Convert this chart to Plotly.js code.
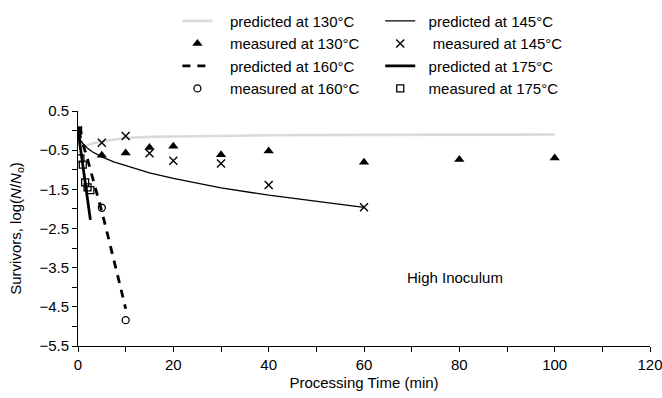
<!DOCTYPE html>
<html>
<head>
<meta charset="utf-8">
<script src="https://cdn.plot.ly/plotly-3.0.1.min.js"></script>
<style>html,body{margin:0;padding:0;background:#fff;}#chart{width:662px;height:398px;}</style>
</head>
<body>
<div id="chart"></div>
<script>
// ---- data ----
const tPred130 = [0, 1.2, 3, 5, 6, 10, 15, 20, 30, 40, 60, 80, 100];
const yPred130 = [0, -0.40, -0.33, -0.28, -0.26, -0.19, -0.16, -0.15, -0.13, -0.12, -0.11, -0.11, -0.10];
const tMeas130 = [0, 5, 10, 15, 20, 30, 40, 60, 80, 100];
const yMeas130 = [0, -0.63, -0.57, -0.43, -0.40, -0.62, -0.52, -0.81, -0.74, -0.70];

const tPred145 = [0, 0.5, 1, 2, 3, 5, 7.5, 10, 15, 20, 25, 30, 40, 50, 60];
const yPred145 = [0, -0.25, -0.33, -0.45, -0.54, -0.67, -0.80, -0.90, -1.08, -1.22, -1.34, -1.46, -1.65, -1.81, -1.96];
const tMeas145 = [0, 5, 10, 15, 20, 30, 40, 60];
const yMeas145 = [0, -0.31, -0.14, -0.58, -0.77, -0.84, -1.39, -1.96];

const tPred160 = [0, 1, 2, 3, 4, 5, 6, 7, 8, 9, 10];
const yPred160 = [0, -0.33, -0.73, -1.16, -1.60, -2.07, -2.55, -3.03, -3.53, -4.04, -4.55];
const tMeas160 = [0, 5, 10];
const yMeas160 = [0, -1.97, -4.84];

const tPred175 = [0, 0.5, 1, 1.5, 2, 2.6];
const yPred175 = [0, -0.44, -0.87, -1.31, -1.74, -2.28];
const tMeas175 = [0, 0.5, 1, 1.5, 2, 2.6];
const yMeas175 = [0, -0.71, -0.87, -1.32, -1.45, -1.52];

const names = {
  p130: '\u00a0\u00a0\u00a0predicted at 130°C',
  m130: '\u00a0\u00a0\u00a0measured at 130°C',
  p160: '\u00a0\u00a0\u00a0predicted at 160°C',
  m160: '\u00a0\u00a0\u00a0measured at 160°C',
  p145: '\u00a0\u00a0predicted at 145°C',
  m145: '\u00a0\u00a0\u00a0measured at 145°C',
  p175: '\u00a0\u00a0predicted at 175°C',
  m175: '\u00a0\u00a0measured at 175°C'
};
const xTickVals = [0, 20, 40, 60, 80, 100, 120];
const yTickVals = [0.5, -0.5, -1.5, -2.5, -3.5, -4.5, -5.5];

const FONT = 'Arial, "Liberation Sans", sans-serif';
const FS = 15;

const traces = [
  {x: tPred130, y: yPred130, mode: 'lines', name: names.p130, legend: 'legend',
   line: {color: '#dadada', width: 2.6}},
  {x: tMeas130, y: yMeas130, mode: 'markers', name: names.m130, legend: 'legend',
   marker: {symbol: 'triangle-up', color: '#000', size: 9}},
  {x: tPred160, y: yPred160, mode: 'lines', name: names.p160, legend: 'legend',
   line: {color: '#000', width: 2.8, dash: '8px,7px'}},
  {x: tMeas160, y: yMeas160, mode: 'markers', name: names.m160, legend: 'legend',
   marker: {symbol: 'circle-open', color: '#000', size: 7, line: {width: 1.3, color: '#000'}}},
  {x: tPred145, y: yPred145, mode: 'lines', name: names.p145, legend: 'legend2',
   line: {color: '#000', width: 1.3}},
  {x: tMeas145, y: yMeas145, mode: 'markers', name: names.m145, legend: 'legend2',
   marker: {symbol: 'x-thin-open', color: '#000', size: 8, line: {width: 1.4, color: '#000'}}},
  {x: tPred175, y: yPred175, mode: 'lines', name: names.p175, legend: 'legend2',
   line: {color: '#000', width: 2.8}},
  {x: tMeas175, y: yMeas175, mode: 'markers', name: names.m175, legend: 'legend2',
   marker: {symbol: 'square-open', color: '#000', size: 7, line: {width: 1.3, color: '#000'}}}
];

const layout = {
  width: 662, height: 398,
  margin: {l: 77.5, r: 12, t: 110.7, b: 51.5, autoexpand: false},
  paper_bgcolor: '#fff', plot_bgcolor: '#fff',
  font: {family: FONT, size: FS, color: '#000'},
  showlegend: true,
  legend: {x: 0.1738, y: 1.4525, xanchor: 'left', yanchor: 'top', orientation: 'v',
           bgcolor: 'rgba(0,0,0,0)', font: {family: FONT, size: FS, color: '#000'}},
  legend2: {x: 0.5284, y: 1.4525, xanchor: 'left', yanchor: 'top', orientation: 'v',
           bgcolor: 'rgba(0,0,0,0)', font: {family: FONT, size: FS, color: '#000'}},
  xaxis: {
    range: [0, 120], tickvals: xTickVals, ticktext: xTickVals.map(String),
    showgrid: false, zeroline: false, showline: true, linecolor: '#000', linewidth: 1,
    ticks: 'outside', ticklen: 5, tickwidth: 1, tickcolor: '#000', ticklabeloverflow: 'allow',
    minor: {dtick: 10, tick0: 0, ticks: 'outside', ticklen: 5, tickwidth: 1, tickcolor: '#000', showgrid: false},
    tickfont: {family: FONT, size: FS},
    title: {text: 'Processing Time (min)', font: {family: FONT, size: FS}, standoff: 5}
  },
  yaxis: {
    range: [-5.5, 0.5], tickvals: yTickVals, ticktext: yTickVals.map(v => (v < 0 ? '\u2212' : '') + Math.abs(v).toFixed(1)),
    showgrid: false, zeroline: false, showline: true, linecolor: '#000', linewidth: 1,
    ticks: 'outside', ticklen: 5, tickwidth: 1, tickcolor: '#000',
    minor: {dtick: 0.5, tick0: 0.5, ticks: 'outside', ticklen: 5, tickwidth: 1, tickcolor: '#000', showgrid: false},
    tickfont: {family: FONT, size: FS},
    title: {text: 'Survivors, log(<i>N</i>/<i>N</i><sub>o</sub>)', font: {family: FONT, size: FS}, standoff: 14}
  },
  annotations: [
    {x: 79, y: -3.75, xref: 'x', yref: 'y', text: 'High Inoculum', showarrow: false,
     font: {family: FONT, size: FS, color: '#000'}}
  ]
};

Plotly.newPlot('chart', traces, layout, {displayModeBar: false, staticPlot: true});
</script>
</body>
</html>
